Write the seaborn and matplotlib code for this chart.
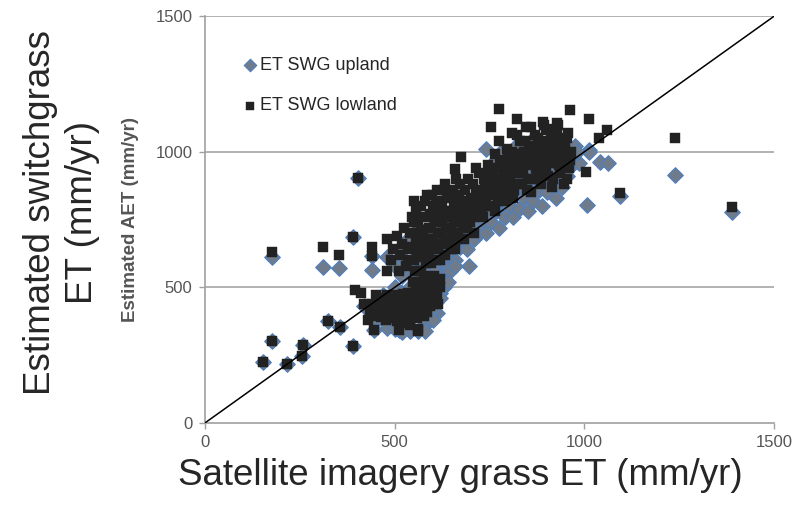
import matplotlib
matplotlib.use("Agg")
import matplotlib.pyplot as plt
import seaborn as sns
import pandas as pd

# ET SWG upland (diamonds)
upland_x = [152, 177, 177, 216, 256, 258, 324, 356, 310, 352, 403, 389, 389, 441, 441, 479, 446, 512, 560, 612,
            697, 1007, 1040, 1063, 1012, 1094, 1239, 1388,
            420, 440, 452, 465, 475, 482, 490, 498, 505, 512, 518, 525, 532, 538, 545, 550, 558, 565, 572, 578,
            585, 592, 598, 605, 610, 618, 625, 630, 470, 500, 520,
            500, 510, 520, 528, 535, 545, 552, 560, 565, 572, 580, 585, 590, 598, 602, 610, 615, 620, 628, 632,
            640, 645, 650, 655, 660, 668, 672, 680, 685, 690, 698, 702, 710, 715, 722, 728, 735, 740, 748, 755,
            760, 768, 775, 782, 790, 798, 805, 812, 820, 828, 835, 842, 850, 858, 865, 872, 880, 888, 895, 902,
            910, 918, 925, 932, 940, 948, 955, 962, 968, 975, 985, 1012,
            740, 760, 780, 800, 820, 840, 860, 880, 900, 920, 940, 770, 810, 850, 890, 930,
            560, 575, 590, 605, 620, 635, 650, 665, 680, 695, 710, 725, 740, 755, 770, 785, 800, 815, 830, 845,
            860, 875, 890, 905, 920, 935, 950, 965, 980, 615, 630, 645, 660, 540, 555, 600, 580, 540,
            470, 480, 500, 520, 580, 600, 620, 640, 455]
upland_y = [223, 303, 613, 218, 245, 288, 374, 352, 576, 570, 905, 684, 282, 616, 562, 613, 343, 343, 337, 405,
            580, 803, 963, 957, 1006, 836, 914, 779,
            430, 400, 380, 420, 455, 395, 370, 430, 460, 390, 355, 425, 445, 380, 410, 470, 430, 395, 455, 480,
            430, 400, 465, 500, 445, 480, 520, 500, 470, 500, 480,
            580, 640, 540, 600, 680, 560, 640, 600, 720, 660, 580, 700, 640, 760, 610, 690, 560, 740, 650, 590,
            700, 620, 780, 660, 600, 720, 650, 760, 690, 640, 800, 720, 680, 760, 700, 820, 740, 700, 790, 740,
            850, 780, 720, 820, 760, 880, 800, 760, 850, 790, 900, 830, 780, 870, 820, 920, 860, 800, 900, 850,
            950, 880, 830, 920, 870, 980, 910, 1000, 950, 1020, 960, 1000,
            1010, 960, 1000, 940, 1020, 980, 1040, 1000, 960, 1060, 1010, 900, 890, 930, 940, 980,
            520, 540, 560, 580, 600, 620, 640, 670, 700, 720, 740, 760, 770, 790, 810, 830, 840, 860, 880, 890,
            900, 910, 920, 930, 950, 960, 960, 980, 1000, 520, 540, 560, 580, 500, 480, 420, 360, 340,
            380, 350, 345, 335, 340, 380, 460, 520, 400]

# ET SWG lowland (squares)
lowland_x = [177, 310, 352, 441, 479, 403, 389, 1239, 1388, 775, 962, 821, 1011, 1060, 1038, 755, 674, 658, 1005,
             1094, 891, 929, 908, 152, 177, 216, 256, 258, 324, 356, 389, 441, 446, 512, 560, 395,
             410, 420, 435, 445, 455, 462, 470, 478, 485, 490, 495, 500, 505, 510, 515, 520, 525, 530, 535, 540,
             545, 550, 555, 560, 565, 570, 575, 580, 585, 590, 595, 600, 605, 612, 540, 560, 525, 470, 600, 585,
             480, 490, 495, 505, 510, 515, 520, 525, 530, 535, 540, 545, 550, 552, 555, 560, 565, 568, 570, 575,
             580, 585, 590, 592, 595, 600, 605, 610, 612, 615, 620, 622, 625, 630, 632, 635, 640, 645, 648, 650,
             655, 660, 662, 665, 670, 675, 680, 685, 690, 695, 700, 705, 710, 715, 720, 725, 730, 735, 740, 745,
             750,
             755, 760, 765, 770, 775, 780, 785, 790, 795, 800, 805, 810, 815, 820, 825, 830, 835, 840, 845, 850,
             855, 860, 865, 870, 875, 880, 885, 890, 895, 900, 905, 910, 915, 920, 925, 930, 935, 940, 945, 950,
             955, 960, 965,
             548, 553, 558, 563, 568, 573, 578, 583, 588, 593, 598, 603, 608, 613, 618, 623, 628, 633, 638, 643,
             648, 653, 658, 663, 668, 673, 678, 683, 688, 693, 698, 703, 708, 713, 718, 723, 728, 733, 738, 743,
             748, 753, 758, 763, 768, 773, 778, 783, 788, 793, 798, 803, 808, 813, 818, 823, 828, 833, 838, 843,
             848, 853, 858, 863, 868, 873, 878, 883, 888, 893, 898, 903, 908, 913, 918, 923, 928, 933, 938, 943,
             948, 953, 958, 963,
             475, 483, 492, 497, 503, 508, 513, 518, 523, 528, 533, 538, 543, 548, 553, 558, 563, 568, 573, 578,
             583, 588, 593, 598, 603, 608, 613, 618, 450, 460, 440, 430,
             535, 540, 545, 550, 555, 560, 565, 570, 575, 580, 585, 590, 595, 600, 605, 610, 615, 620, 625, 630,
             635, 640, 645, 650, 655, 660, 665, 670, 675, 680, 690, 700, 710, 720, 730, 740, 750, 760, 770, 780,
             790, 800, 810, 820, 830, 840, 850, 860, 870, 880, 890, 900, 910, 920, 930, 940, 950,
             455, 465, 480, 488, 495, 502, 510, 518, 526, 534, 542, 550, 558, 566, 574, 582, 590, 598, 606, 614,
             620, 575, 555]
lowland_y = [629, 650, 619, 650, 677, 905, 684, 1051, 795, 1159, 1155, 1122, 1120, 1079, 1049, 1092, 981, 938, 926,
             848, 1110, 1106, 1085, 223, 303, 218, 245, 288, 374, 352, 282, 616, 343, 343, 337, 490,
             480, 440, 410, 395, 430, 460, 400, 380, 420, 450, 470, 400, 375, 440, 420, 460, 390, 410, 480, 430,
             455, 395, 440, 470, 420, 490, 450, 430, 500, 470, 455, 510, 490, 470, 360, 345, 370, 440, 440, 410,
             560, 600, 640, 690, 560, 620, 660, 720, 580, 640, 700, 760, 600, 820, 680, 740, 640, 800, 560, 700,
             760, 840, 620, 680, 720, 800, 660, 760, 860, 700, 600, 820, 740, 680, 880, 780, 720, 840, 640, 760,
             810, 700, 900, 760, 840, 740, 800, 860, 720, 780, 830, 880, 760, 940, 810, 860, 780, 900, 830, 950,
             870,
             800, 920, 990, 850, 1040, 900, 960, 820, 1010, 880, 940, 1070, 860, 990, 920, 1040, 880, 960, 1090, 900,
             1010, 850, 950, 1060, 920, 990, 880, 1030, 950, 1080, 910, 990, 870, 1040, 960, 1100, 920, 1010, 880,
             970, 1050, 940, 1000,
             520, 560, 610, 660, 710, 760, 540, 590, 650, 770, 840, 540, 600, 640, 780, 700, 760, 620, 830, 680,
             720, 860, 640, 800, 700, 880, 760, 680, 820, 900, 740, 800, 700, 860, 780, 920, 840, 760, 880, 800,
             920, 840, 880, 780, 940, 820, 970, 880, 920, 850, 980, 900, 1000, 830, 940, 1060, 880, 990, 920, 1040,
             860, 960, 1090, 900, 1000, 940, 1050, 900, 970, 1100, 920, 1010, 960, 1050, 900, 1000, 1070, 950, 1040,
             980, 1020, 900, 1070, 970,
             415, 445, 385, 415, 455, 405, 380, 440, 475, 430, 400, 460, 385, 480, 420, 500, 445, 410, 470, 395,
             455, 520, 430, 480, 460, 520, 440, 500, 470, 415, 440, 380,
             600, 650, 700, 740, 790, 650, 560, 620, 680, 820, 620, 720, 590, 680, 740, 820, 650, 700, 800, 860,
             720, 660, 780, 700, 740, 840, 680, 780, 820, 720, 760, 780, 820, 850, 820, 860, 900, 860, 900, 940,
             900, 950, 920, 960, 940, 1000, 980, 1020, 980, 1030, 1000, 1040, 1020, 970, 1030, 950, 1000,
             450, 390, 470, 405, 440, 385, 465, 400, 445, 370, 415, 450, 385, 470, 425, 480, 445, 500, 475, 515,
             530, 520, 510]

ticks = [0, 500, 1000, 1500]

upland = pd.DataFrame({"x": upland_x, "y": upland_y})
lowland = pd.DataFrame({"x": lowland_x, "y": lowland_y})

sns.set_style("white")
plt.rcParams["font.family"] = ["Liberation Sans", "DejaVu Sans"]

fig = plt.figure(figsize=(7.98, 5.07), dpi=100)
ax = fig.add_axes([0.257, 0.166, 0.713, 0.802])

sns.scatterplot(data=upland, x="x", y="y", ax=ax, marker="D", s=62, color="#6f7b8b",
                edgecolor="#4f7fbd", linewidth=0.9, label="ET SWG upland", zorder=3)
sns.scatterplot(data=lowland, x="x", y="y", ax=ax, marker="s", s=52, color="#222222",
                edgecolor="#222222", linewidth=0.3, label="ET SWG lowland", zorder=4)

# 1:1 line
ax.plot([0, 1500], [0, 1500], color="black", lw=1.1, zorder=5)

ax.set_xlim(0, 1500)
ax.set_ylim(0, 1500)
ax.set_xticks(ticks)
ax.set_yticks(ticks)
for t in ticks[1:]:
    ax.axhline(t, color="#a6a6a6", lw=1.2, zorder=1)

for s in ["top", "right"]:
    ax.spines[s].set_visible(False)
for s in ["left", "bottom"]:
    ax.spines[s].set_color("#a0a0a0")
    ax.spines[s].set_linewidth(1.2)
ax.tick_params(axis="both", length=4, width=1, color="#a0a0a0", labelsize=12,
               labelcolor="#555555", direction="out", pad=5, bottom=True, left=True)

ax.set_xlabel("")
ax.set_ylabel("Estimated AET (mm/yr)", fontsize=13.5, fontweight="bold", color="#555555", labelpad=12)
fig.text(0.577, 0.062, "Satellite imagery grass ET (mm/yr)", fontsize=26.5, ha="center", va="center")
fig.text(0.077, 0.58, "Estimated switchgrass\nET (mm/yr)", fontsize=26.5, ha="center", va="center",
         rotation=90, linespacing=1.25)

leg = ax.legend(loc="upper left", bbox_to_anchor=(0.065, 0.9), frameon=False, fontsize=13,
                handlelength=0.9, handletextpad=0.1, labelspacing=1.3, borderpad=0, borderaxespad=0,
                markerscale=0.8)

fig.savefig("out.png", dpi=100)
